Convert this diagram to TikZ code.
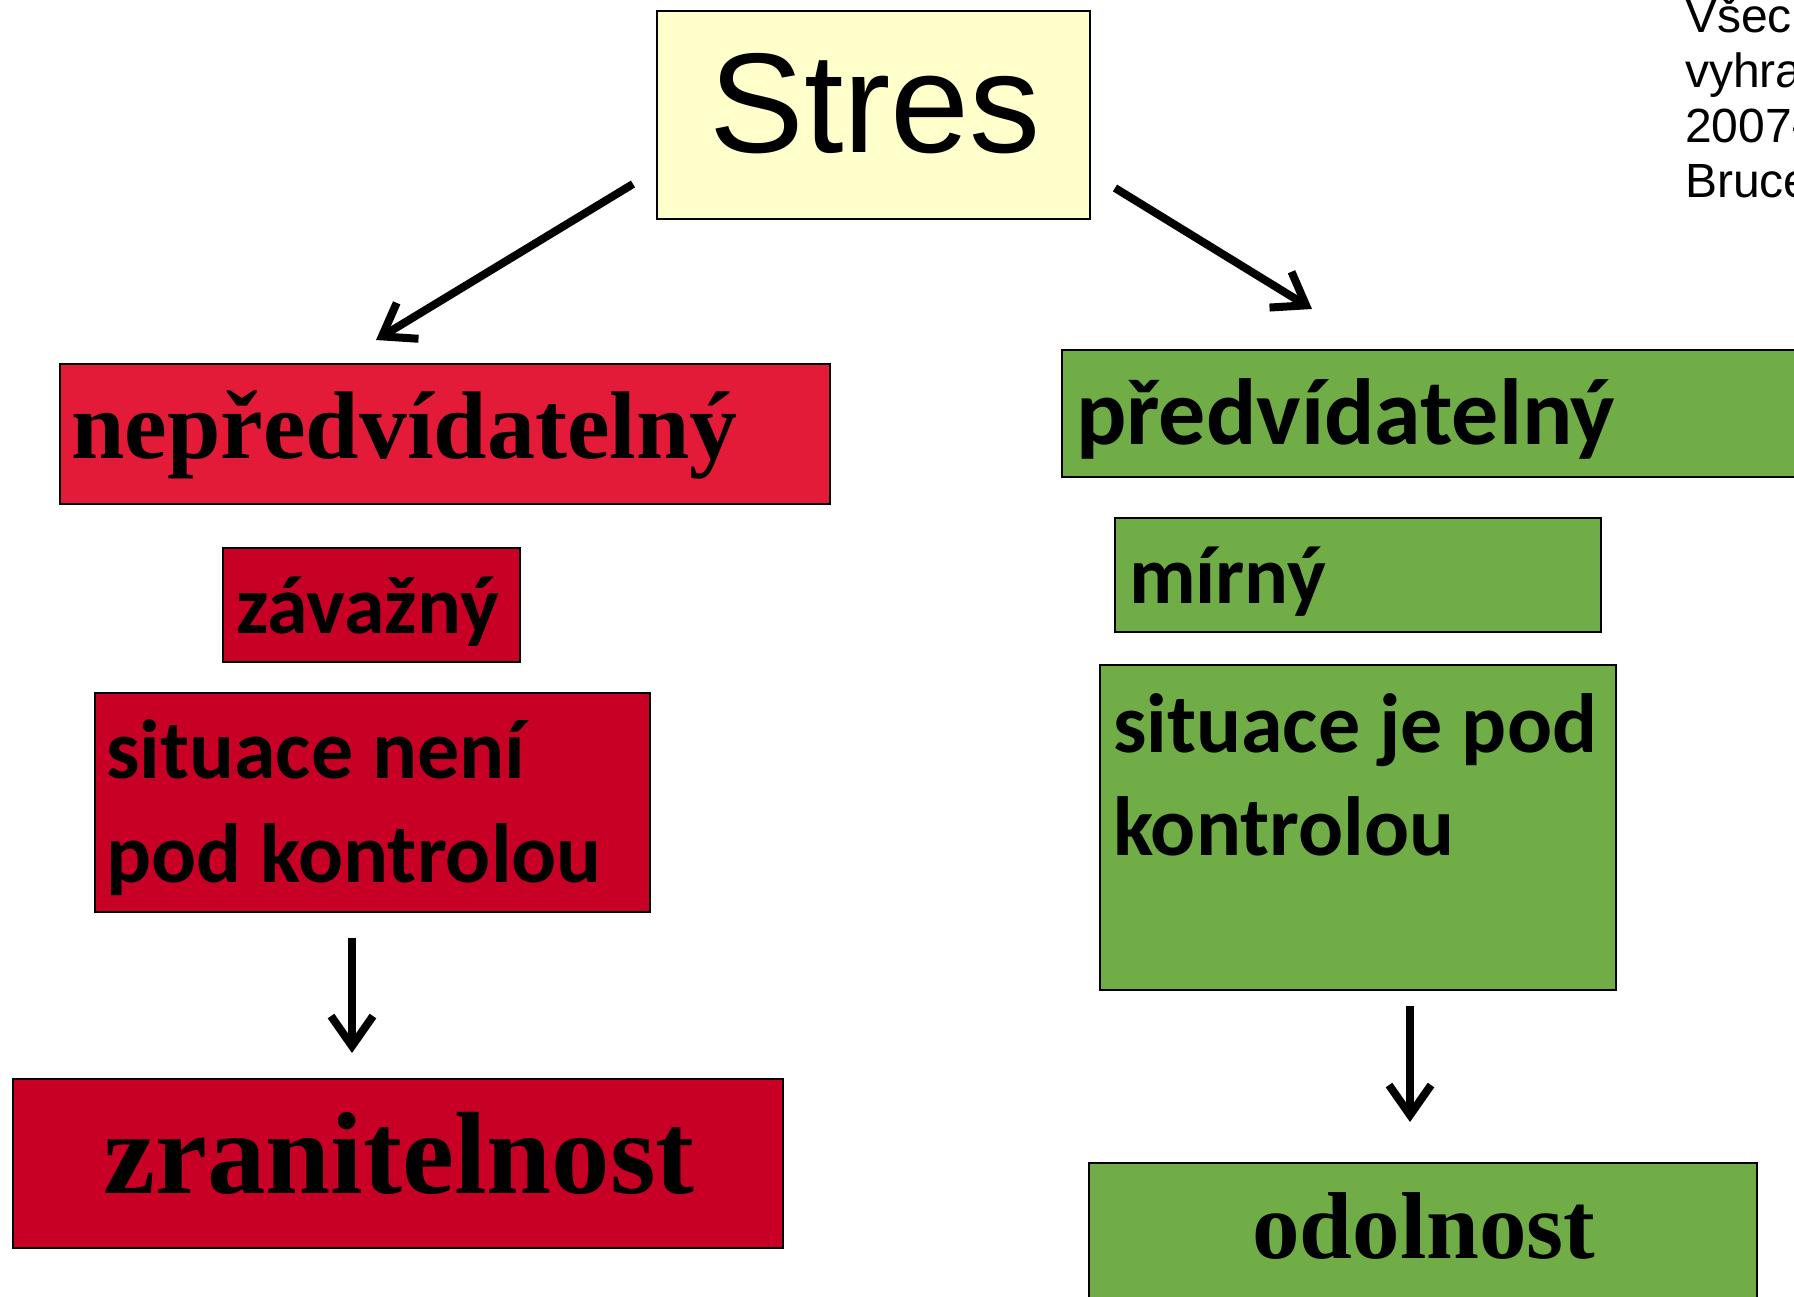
\documentclass[tikz,border=0pt]{standalone}
\usepackage{fontspec}
\setmainfont{Liberation Serif}
\newfontfamily\arialf{Liberation Sans}
\newfontfamily\timesf{Liberation Serif}
\newfontfamily\calf{Carlito}
\usetikzlibrary{arrows.meta}
\definecolor{stresyellow}{HTML}{FFFFCC}
\definecolor{lightred}{HTML}{E31B38}
\definecolor{darkred}{HTML}{C80026}
\definecolor{leafgreen}{HTML}{70AD47}
\tikzset{
  box/.style={draw=black, line width=2pt, rectangle, inner sep=0pt, outer sep=0pt},
  txt/.style={inner sep=0pt, outer sep=0pt, text=black},
  arr/.style={line width=8pt, -{Straight Barb[length=30pt,width=42pt,line width=8pt]}}
}
\begin{document}
\begin{tikzpicture}[x=1pt,y=-1pt]
\useasboundingbox (0,0) rectangle (1794,1296);
\clip (0,0) rectangle (1794,1296);
\fill[white] (0,0) rectangle (1794,1296);

% boxes
\node[box, fill=stresyellow, minimum width=433pt, minimum height=208pt] (stres) at (873.5,115) {};
\node[box, fill=lightred, minimum width=770pt, minimum height=140pt] (nepr) at (445,434) {};
\node[box, fill=darkred, minimum width=297pt, minimum height=114pt] (zav) at (371.5,605) {};
\node[box, fill=darkred, minimum width=555pt, minimum height=219pt] (sitn) at (372.5,802.5) {};
\node[box, fill=darkred, minimum width=770pt, minimum height=169pt] (zran) at (398,1163.5) {};
\node[box, fill=leafgreen, minimum width=770pt, minimum height=127pt] (predv) at (1447,413.5) {};
\node[box, fill=leafgreen, minimum width=486pt, minimum height=114pt] (mirny) at (1358,575) {};
\node[box, fill=leafgreen, minimum width=516pt, minimum height=325pt] (sitj) at (1358,827.5) {};
\node[box, fill=leafgreen, minimum width=668pt, minimum height=169pt] (odol) at (1423,1247.5) {};

% texts
\node[txt, anchor=base, font=\arialf\fontsize{142}{160}\selectfont] (tstres) at (875,152) {Stres};
\node[txt, anchor=base west, font=\timesf\bfseries\fontsize{96}{110}\selectfont] (tnepr) at (71,458) {nepředvídatelný};
\node[txt, anchor=base west, font=\calf\bfseries\fontsize{82}{100}\selectfont] (tzav) at (236,633) {závažný};
\node[txt, anchor=base west, align=left, font=\calf\bfseries\fontsize{84}{104}\selectfont] (tsitn) at (106,882) {situace není\\pod kontrolou};
\node[txt, anchor=base, font=\timesf\bfseries\fontsize{117}{130}\selectfont] (tzran) at (399,1193) {zranitelnost};
\node[txt, anchor=base west, font=\calf\bfseries\fontsize{94}{110}\selectfont] (tpredv) at (1076,444) {předvídatelný};
\node[txt, anchor=base west, font=\calf\bfseries\fontsize{82}{100}\selectfont] (tmirny) at (1129,603) {mírný};
\node[txt, anchor=base west, align=left, font=\calf\bfseries\fontsize{84}{103}\selectfont] (tsitj) at (1113,855) {situace je pod\\kontrolou};
\node[txt, anchor=base, font=\timesf\bfseries\fontsize{95}{110}\selectfont] (todol) at (1424,1258) {odolnost};
\node[txt, anchor=base west, align=left, font=\arialf\fontsize{48}{55}\selectfont] (tcopy) at (1685,197) {Všech\\vyhraz\\2007-\\Bruce};

% connectors
\coordinate (a1s) at (633,184);
\coordinate (a1e) at (376,340);
\coordinate (a2s) at (1115,188);
\coordinate (a2e) at (1312,309);
\coordinate (a3s) at (352,938);
\coordinate (a3e) at (352,1053);
\coordinate (a4s) at (1410,1006);
\coordinate (a4e) at (1410,1122);
\draw[arr] (a1s) -- (a1e);
\draw[arr] (a2s) -- (a2e);
\draw[arr] (a3s) -- (a3e);
\draw[arr] (a4s) -- (a4e);
\end{tikzpicture}
\end{document}
